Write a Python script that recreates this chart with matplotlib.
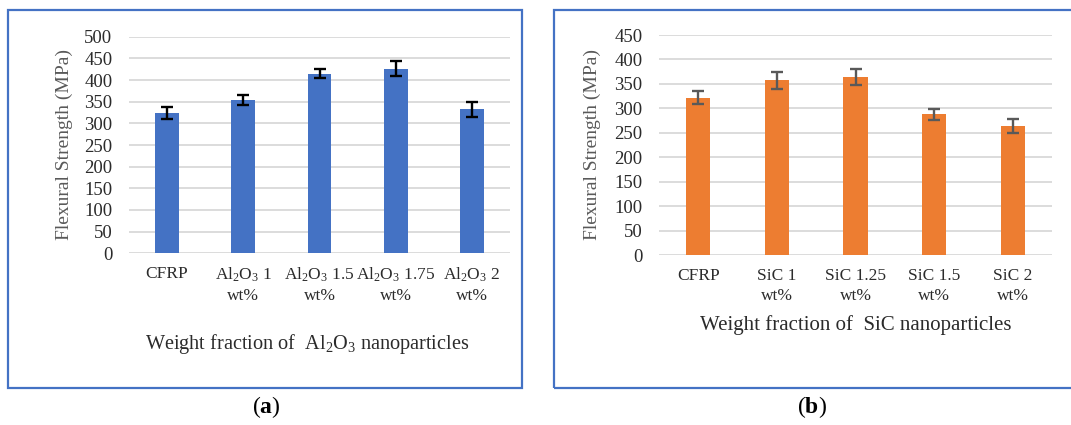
import matplotlib
matplotlib.use('Agg')
import matplotlib.pyplot as plt
from matplotlib.patches import Rectangle

# ---------------- data ----------------
al_categories = ['CFRP', 'Al$_2$O$_3$ 1\nwt%', 'Al$_2$O$_3$ 1.5\nwt%',
                 'Al$_2$O$_3$ 1.75\nwt%', 'Al$_2$O$_3$ 2\nwt%']
al_values = [323, 354, 415, 426, 332]
al_errors = [14, 12, 11, 17, 17]
al_yticks = [0, 50, 100, 150, 200, 250, 300, 350, 400, 450, 500]

sic_categories = ['CFRP', 'SiC 1\nwt%', 'SiC 1.25\nwt%', 'SiC 1.5\nwt%', 'SiC 2\nwt%']
sic_values = [322, 357, 364, 288, 264]
sic_errors = [14, 17, 17, 11, 14]
sic_yticks = [0, 50, 100, 150, 200, 250, 300, 350, 400, 450]

ylabel_text = 'Flexural Strength (MPa)'
al_xlabel = 'Weight fraction of  Al$_2$O$_3$ nanoparticles'
sic_xlabel = 'Weight fraction of  SiC nanoparticles'

# ---------------- style ----------------
plt.rcParams['font.family'] = ['Liberation Serif', 'DejaVu Serif']
plt.rcParams['mathtext.fontset'] = 'custom'
plt.rcParams['mathtext.rm'] = 'Liberation Serif'
plt.rcParams['mathtext.it'] = 'Liberation Serif:italic'
plt.rcParams['mathtext.bf'] = 'Liberation Serif:bold'

W, H = 1071, 425
fig = plt.figure(figsize=(W / 100, H / 100), dpi=100)


def fx(px):
    return px / W


def fy(py):
    return 1 - py / H


def make_axes(x0, x1, ytop, ybot):
    return fig.add_axes([fx(x0), fy(ybot), fx(x1) - fx(x0), fy(ytop) - fy(ybot)])


tick_color = '#2b2b2b'
label_color = '#595959'
grid_color = '#D9D9D9'


def draw_panel(ax, cats, vals, errs, yticks, color, ecolor):
    x = list(range(len(cats)))
    ax.bar(x, vals, width=0.31, color=color, zorder=3,
           yerr=errs, capsize=4.5,
           error_kw=dict(ecolor=ecolor, elinewidth=1.7, capthick=1.7, zorder=4))
    ax.set_xlim(-0.5, len(cats) - 0.5)
    ax.set_ylim(yticks[0], yticks[-1])
    ax.set_yticks(yticks)
    ax.set_yticklabels([str(t) for t in yticks])
    ax.set_xticks(x)
    ax.set_xticklabels(cats, linespacing=1.35)
    for s in ax.spines.values():
        s.set_visible(False)
    ax.yaxis.grid(True, color=grid_color, linewidth=1.3, zorder=0)
    ax.set_axisbelow(True)
    ax.tick_params(axis='y', length=0, pad=12, labelsize=13.5, labelcolor=tick_color)
    ax.tick_params(axis='x', length=0, pad=9, labelsize=12.5, labelcolor=tick_color)


# left panel (a)
axL = make_axes(129, 510, 36.7, 253.3)
draw_panel(axL, al_categories, al_values, al_errors, al_yticks, '#4472C4', '#000000')

# right panel (b)
axR = make_axes(659, 1052, 35, 255)
draw_panel(axR, sic_categories, sic_values, sic_errors, sic_yticks, '#ED7D31', '#595959')

# y labels
fig.text(fx(64), fy(145), ylabel_text, rotation=90, ha='center', va='center',
         fontsize=14, color=label_color)
fig.text(fx(592), fy(145), ylabel_text, rotation=90, ha='center', va='center',
         fontsize=14, color=label_color)

# x labels
fig.text(fx(307), fy(344), al_xlabel, ha='center', va='center', fontsize=14.6, color=tick_color)
fig.text(fx(856), fy(325), sic_xlabel, ha='center', va='center', fontsize=15, color=tick_color)

# frames around each chart
fig.add_artist(Rectangle((fx(8), fy(388)), fx(522) - fx(8), fy(10) - fy(388),
                         transform=fig.transFigure, fill=False, edgecolor='#4472C4',
                         linewidth=1.6))
fig.add_artist(Rectangle((fx(554), fy(388)), fx(1090) - fx(554), fy(10) - fy(388),
                         transform=fig.transFigure, fill=False, edgecolor='#4472C4',
                         linewidth=1.6, clip_on=False))

# panel captions
fig.text(fx(266), fy(407), r'($\mathbf{a}$)', ha='center', va='center', fontsize=17, color='#000000')
fig.text(fx(812), fy(407), r'($\mathbf{b}$)', ha='center', va='center', fontsize=17, color='#000000')

fig.savefig('out.png', dpi=100, facecolor='white')
